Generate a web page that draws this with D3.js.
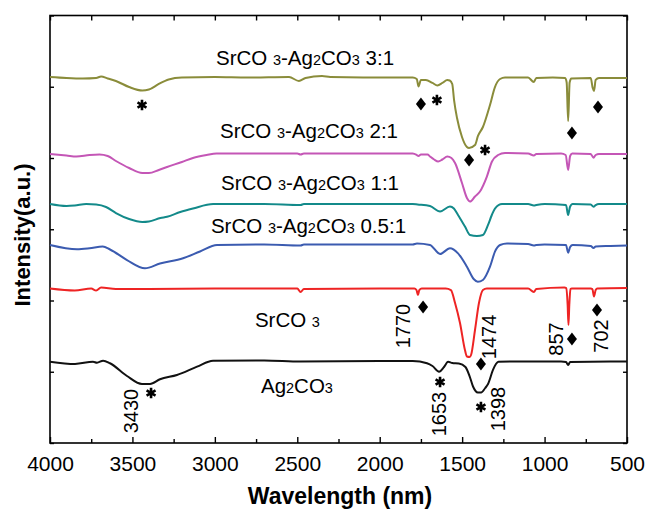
<!DOCTYPE html>
<html><head><meta charset="utf-8">
<script src="https://cdn.jsdelivr.net/npm/d3@7"></script>
<style>body{margin:0;background:#fff}svg{display:block}</style>
</head><body><svg id="c" width="651" height="511"></svg>
<script>
// ---------- data ----------
const xMajorTicks = [4000,3500,3000,2500,2000,1500,1000,500];
const xMinorTicks = [3750,3250,2750,2250,1750,1250,750];
const yTicks = [0,10,20,30,40,50,60];

const seriesNames = ["SrCO_3-Ag_2CO_3 3:1","SrCO_3-Ag_2CO_3 2:1","SrCO_3-Ag_2CO_3 1:1","SrCO_3-Ag_2CO_3 0.5:1","SrCO_3","Ag_2CO_3"];
const seriesColors = ["#8a8c3a","#c456b6","#138a8a","#3b5bb0","#ee2424","#111111"];

const s31 = [[4000,51.37],[3900,51.23],[3800,51.16],[3720,51.23],[3690,51.44],[3650,51.16],[3600,50.81],[3520,49.96],[3440,49.47],[3400,49.61],[3340,50.39],[3280,51.02],[3200,51.30],[3000,51.37],[2800,51.30],[2550,51.37],[2490,50.81],[2450,51.23],[2350,51.51],[2300,51.37],[2100,51.30],[1800,51.30],[1775,51.09],[1765,50.04],[1750,50.95],[1720,50.95],[1680,50.53],[1650,50.18],[1620,50.53],[1590,50.95],[1575,50.88],[1560,50.39],[1549,48.14],[1531,45.61],[1501,42.95],[1471,41.54],[1458,41.40],[1422,41.82],[1404,43.09],[1374,44.35],[1331,47.44],[1301,49.96],[1270,51.09],[1240,51.30],[1100,51.30],[1065,50.67],[1050,51.23],[950,51.30],[875,51.23],[866,50.6],[857,45.19],[848,50.6],[838,51.16],[720,51.23],[708,49.82],[700,49.40],[690,50.95],[670,51.23],[500,51.23]];

const s21 = [[4000,40.56],[3900,40.35],[3840,40.21],[3760,40.42],[3700,40.49],[3650,40.28],[3600,39.58],[3520,38.60],[3440,37.89],[3400,37.89],[3340,38.32],[3290,38.74],[3200,39.44],[3133,40.00],[3050,40.42],[2990,40.63],[2700,40.63],[2500,40.63],[2480,40.49],[2460,40.63],[1800,40.63],[1775,40.42],[1765,40.28],[1750,40.49],[1710,40.49],[1695,40.21],[1670,39.79],[1645,39.51],[1620,39.79],[1590,40.21],[1565,40.00],[1543,39.30],[1501,36.49],[1471,34.39],[1452,33.89],[1422,34.60],[1392,35.30],[1350,37.40],[1319,39.51],[1282,40.42],[1240,40.70],[1100,40.63],[1065,40.35],[1050,40.56],[900,40.63],[872,40.42],[857,38.32],[845,40.28],[832,40.63],[720,40.56],[703,40.04],[690,40.42],[670,40.56],[500,40.56]];

const s11 = [[4000,33.54],[3900,33.26],[3850,33.33],[3780,33.54],[3720,33.47],[3660,33.12],[3600,32.28],[3520,31.44],[3440,31.02],[3400,31.09],[3330,31.58],[3290,31.76],[3210,32.42],[3133,32.91],[3010,33.54],[2700,33.54],[2480,33.40],[2460,33.54],[1800,33.54],[1770,33.47],[1695,33.26],[1634,32.49],[1574,33.19],[1550,32.91],[1525,32.00],[1483,30.39],[1452,29.19],[1410,29.05],[1374,29.19],[1343,30.60],[1320,32.00],[1301,32.91],[1258,33.54],[1100,33.54],[1065,33.33],[1050,33.40],[1000,33.54],[870,33.40],[857,32.00],[846,33.12],[830,33.54],[720,33.47],[703,33.16],[690,33.40],[670,33.54],[500,33.54]];

const s051 = [[4000,27.79],[3836,27.19],[3760,27.33],[3680,27.58],[3636,27.16],[3533,25.68],[3424,24.52],[3333,25.19],[3193,25.92],[3090,26.88],[2987,27.79],[2700,27.86],[2480,27.72],[2460,27.86],[1800,27.86],[1774,28.00],[1695,27.79],[1634,26.53],[1574,27.33],[1525,26.62],[1471,24.74],[1430,23.02],[1405,22.64],[1374,22.88],[1331,24.74],[1301,26.85],[1270,27.79],[1228,28.00],[1100,27.93],[1065,27.72],[1050,27.79],[1000,27.86],[870,27.79],[857,26.71],[845,27.51],[830,27.79],[720,27.65],[703,27.37],[690,27.58],[600,27.65],[500,27.72]];

const srco3 = [[4000,21.68],[3850,21.40],[3750,21.68],[3720,21.40],[3690,21.82],[3600,21.61],[3400,21.61],[3000,21.68],[2500,21.68],[2480,21.19],[2460,21.61],[2000,21.68],[1790,21.68],[1777,21.47],[1768,20.77],[1760,21.47],[1745,21.68],[1600,21.68],[1568,21.47],[1543,19.65],[1513,16.84],[1483,13.05],[1471,12.14],[1455,12.07],[1446,12.35],[1422,15.86],[1398,19.65],[1374,21.47],[1350,21.68],[1100,21.68],[1065,21.19],[1050,21.61],[880,21.82],[868,21.75],[860,19.37],[855,16.56],[850,19.37],[843,21.61],[835,21.68],[720,21.68],[710,21.61],[700,20.56],[690,21.47],[680,21.68],[500,21.75]];

const ag2co3 = [[4000,11.41],[3848,11.09],[3739,11.41],[3715,11.27],[3678,11.55],[3636,11.19],[3533,9.40],[3442,8.28],[3393,8.28],[3333,8.94],[3230,9.54],[3108,10.71],[3011,11.55],[2700,11.58],[2480,11.44],[2000,11.51],[1800,11.51],[1713,11.19],[1680,10.81],[1640,10.01],[1610,10.67],[1585,11.41],[1560,11.23],[1520,11.16],[1480,10.67],[1455,9.40],[1434,7.93],[1405,7.09],[1385,7.09],[1360,7.72],[1343,8.28],[1313,10.25],[1295,11.09],[1280,11.41],[1100,11.44],[900,11.44],[870,11.37],[857,10.95],[845,11.37],[500,11.44]];

const seriesData = [s31, s21, s11, s051, srco3, ag2co3];
// label anchor: [wavenumber, intensity] of text centre / baseline
const labelAnchors = [[2453,53.05],[2429,42.81],[2423,35.51],[2432,29.47],[2560,16.28],[2502,7.02]];

// peak annotations
const diamondMarks = [[1750,47.58],[1458,39.72],[834,43.51],[676,47.16],[1737,19.09],[1386,11.09],[834,14.60],[682,18.67]];
const starMarks = [[3442,47.44],[1653,48.14],[1361,41.12],[3387,7.02],[1634,8.56],[1386,5.05]];
const peakLabels = ["1770","1474","857","702","3430","1653","1398"];
const peakLabelPos = [[1859,16.42],[1337,14.88],[931,14.60],[658,15.02],[3509,4.49],[1640,4.07],[1283,4.77]];

// ---------- drawing ----------
const FONT = "Liberation Sans, Arial, sans-serif";
const svg = d3.select("#c");
const L=50, R=627, T=15.5, B=443;
const x = d3.scaleLinear().domain([4000,500]).range([L,R]);
const y = d3.scaleLinear().domain([0,60]).range([B,T]);

// axes
const gB = svg.append("g").attr("transform",`translate(0,${B})`)
  .call(d3.axisBottom(x).tickValues(xMajorTicks).tickSizeInner(-6).tickSizeOuter(0).tickPadding(13).tickFormat(d3.format("d")));
const gBm = svg.append("g").attr("transform",`translate(0,${B})`)
  .call(d3.axisBottom(x).tickValues(xMinorTicks).tickSizeInner(-4).tickSizeOuter(0).tickFormat(""));
const gT = svg.append("g").attr("transform",`translate(0,${T})`)
  .call(d3.axisTop(x).tickValues(xMajorTicks.concat(xMinorTicks)).tickSizeInner(-5).tickSizeOuter(0).tickFormat(""));
const gL = svg.append("g").attr("transform",`translate(${L},0)`)
  .call(d3.axisLeft(y).tickValues(yTicks).tickSizeInner(-4).tickSizeOuter(0).tickFormat(""));
const gR = svg.append("g").attr("transform",`translate(${R},0)`)
  .call(d3.axisRight(y).tickValues(yTicks).tickSizeInner(-4).tickSizeOuter(0).tickFormat(""));
[gB,gBm,gT,gL,gR].forEach(g=>{
  g.select(".domain").remove();
  g.selectAll("line").attr("stroke","#000").attr("stroke-width",1.4);
});
gB.selectAll("text").attr("font-family",FONT).attr("font-size",21).attr("fill","#000");

svg.append("rect").attr("x",L).attr("y",T).attr("width",R-L).attr("height",B-T)
  .attr("fill","none").attr("stroke","#000").attr("stroke-width",1.6);

// axis titles
svg.append("text").attr("x",340).attr("y",504).attr("text-anchor","middle")
  .attr("font-family",FONT).attr("font-weight","bold").attr("font-size",23).text("Wavelength (nm)");
svg.append("text").attr("transform","translate(30,235) rotate(-90)").attr("text-anchor","middle")
  .attr("font-family",FONT).attr("font-weight","bold").attr("font-size",22).text("Intensity(a.u.)");

// spectra
const line = d3.line().x(d=>x(d[0])).y(d=>y(d[1])).curve(d3.curveMonotoneX);
seriesData.forEach((s,i)=>{
  svg.append("path").attr("d",line(s)).attr("fill","none")
    .attr("stroke",seriesColors[i]).attr("stroke-width",2).attr("stroke-linejoin","round");
});

// series labels with subscripts
function addRich(t, str, big, small){
  const parts = str.split(/(_\d)/).filter(p=>p.length);
  parts.forEach(p=>{
    if(p[0]==="_"){
      t.append("tspan").attr("font-size",small).text(p[1]);
    } else {
      t.append("tspan").attr("font-size",big).text(p);
    }
  });
}
seriesNames.forEach((n,i)=>{
  const t = svg.append("text").attr("x",x(labelAnchors[i][0])).attr("y",y(labelAnchors[i][1]))
    .attr("text-anchor","middle").attr("font-family",FONT).attr("fill","#000");
  addRich(t, n.replace("SrCO_3","SrCO _3"), 20.5, 14.5);
});

// markers
const diamond = d3.symbol().type({draw(ctx,size){ctx.moveTo(0,-6.5);ctx.lineTo(5,0);ctx.lineTo(0,6.5);ctx.lineTo(-5,0);ctx.closePath();}}).size(1);
svg.selectAll(".dia").data(diamondMarks).join("path").attr("class","dia")
  .attr("transform",d=>`translate(${x(d[0])},${y(d[1])})`).attr("d",diamond()).attr("fill","#000");
const star = d3.symbol(d3.symbolAsterisk, 75);
svg.selectAll(".star").data(starMarks).join("path").attr("class","star")
  .attr("transform",d=>`translate(${x(d[0])},${y(d[1])})`).attr("d",star())
  .attr("fill","none").attr("stroke","#000").attr("stroke-width",2.6);

// rotated peak labels
svg.selectAll(".pk").data(peakLabels).join("text").attr("class","pk")
  .attr("transform",(d,i)=>`translate(${x(peakLabelPos[i][0])},${y(peakLabelPos[i][1])}) rotate(-90)`)
  .attr("text-anchor","middle").attr("dominant-baseline","central")
  .attr("font-family",FONT).attr("font-size",20).text(d=>d);
</script></body></html>
